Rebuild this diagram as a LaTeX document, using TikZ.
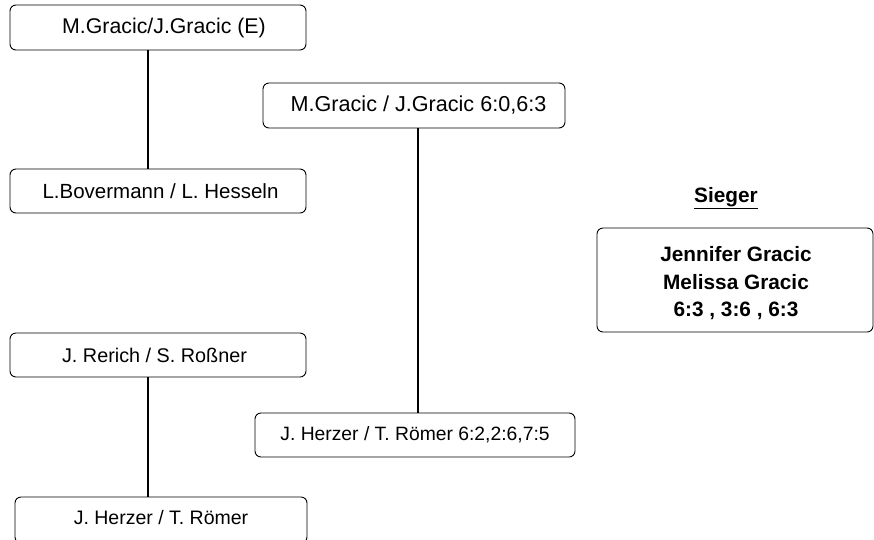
\documentclass[tikz,border=0pt]{standalone}
\usepackage{fontspec}
\setmainfont{Liberation Sans}
\begin{document}
\begin{tikzpicture}[x=1pt,y=-1pt,
  box/.style={draw=black,line width=0.9pt,rounded corners=6pt,inner sep=0pt,font=\fontsize{19.5}{24}\selectfont},
  link/.style={draw=black,line width=1.1pt}]
\useasboundingbox (0,0) rectangle (874,539);
\node[box,minimum width=296pt,minimum height=45pt,font=\fontsize{21.3}{24}\selectfont] (b1) at (158,27.5) {\hspace*{12pt}M.Gracic/J.Gracic (E)};
\node[box,minimum width=296pt,minimum height=44pt,font=\fontsize{20.5}{24}\selectfont] (b2) at (158,191) {\hspace*{5pt}L.Bovermann / L. Hesseln};
\node[box,minimum width=302pt,minimum height=45pt,font=\fontsize{21.6}{24}\selectfont] (b3) at (414,105.5) {\hspace*{9pt}M.Gracic / J.Gracic 6:0,6:3};
\node[box,minimum width=320pt,minimum height=44pt,font=\fontsize{19.3}{24}\selectfont] (b4) at (415,435) {J. Herzer / T. Römer 6:2,2:6,7:5};
\node[box,minimum width=296pt,minimum height=44pt,font=\fontsize{19.8}{24}\selectfont] (b5) at (158,355) {J. Rerich / S. Roßner\hspace*{7pt}};
\node[box,minimum width=292pt,minimum height=46pt] (b6) at (161,520) {};
\node[font=\fontsize{19.5}{24}\selectfont,inner sep=0pt] (b6t) at (161,518) {J. Herzer / T. Römer};
\node[box,minimum width=276pt,minimum height=104pt] (winbox) at (735,280) {};
\node[align=center,inner sep=0pt,font=\fontsize{20.8}{27.5}\selectfont\bfseries] (win) at (736,283.5) {Jennifer Gracic\\Melissa Gracic\\6:3 , 3:6 , 6:3};
\node[font=\fontsize{20.8}{24}\selectfont\bfseries,inner sep=0pt] (sieger) at (726,198) {\underline{Sieger}};
\draw[link] ([xshift=-10pt]b1.south) -- ([xshift=-10pt]b2.north);
\draw[link] ([xshift=4pt]b3.south) -- ([xshift=4pt]b3.south |- b4.north);
\draw[link] ([xshift=-10pt]b5.south) -- ([xshift=-10pt]b5.south |- b6.north);
\end{tikzpicture}
\end{document}
